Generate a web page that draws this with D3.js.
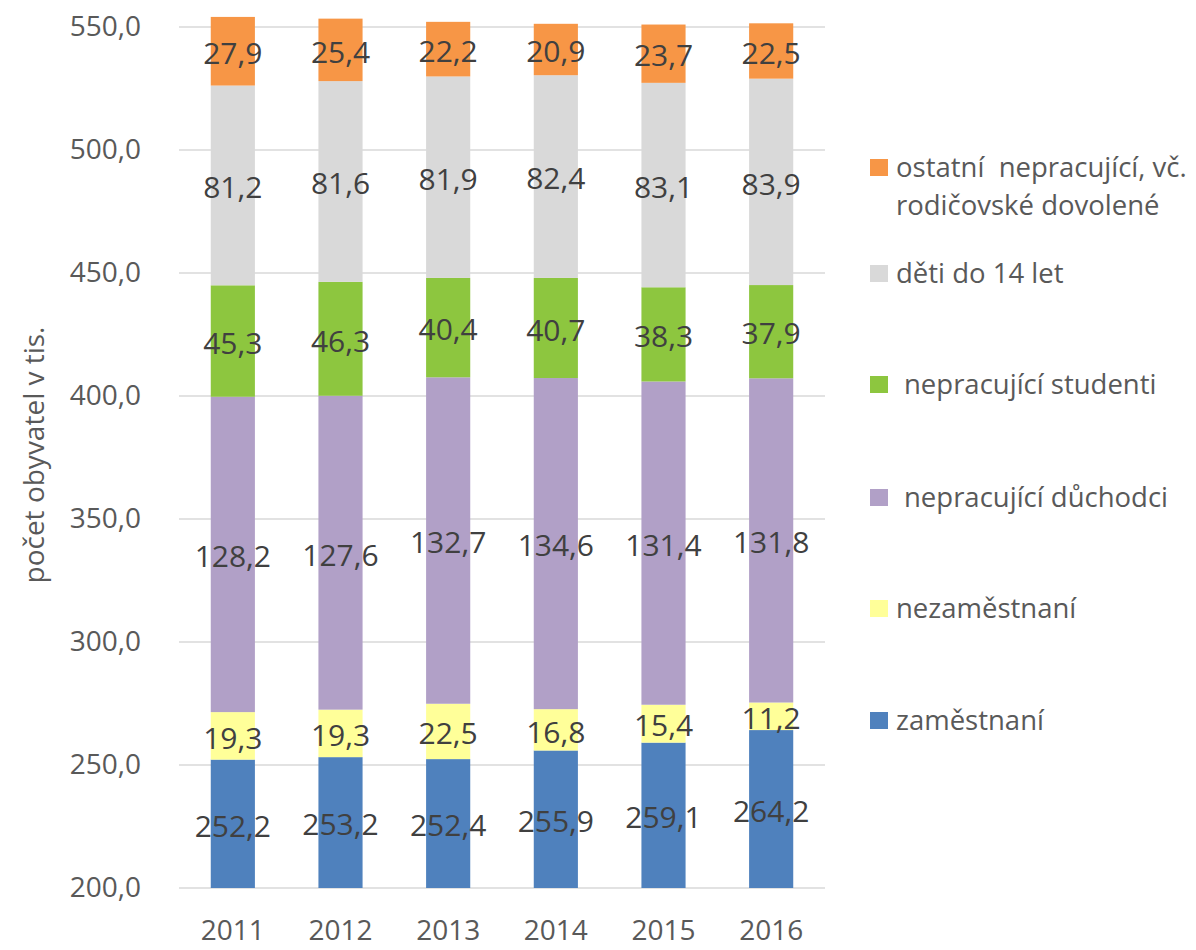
<!DOCTYPE html>
<html><head><meta charset="utf-8">
<script src="https://cdn.jsdelivr.net/npm/d3@7"></script>
<style>body{margin:0;background:#fff;} text{font-family:"Open Sans",sans-serif;}</style>
</head><body>
<svg id="c" width="1196" height="950"></svg>
<script>
const years = ["2011","2012","2013","2014","2015","2016"];
const zamestnani = [252.2,253.2,252.4,255.9,259.1,264.2];
const nezamestnani = [19.3,19.3,22.5,16.8,15.4,11.2];
const duchodci = [128.2,127.6,132.7,134.6,131.4,131.8];
const studenti = [45.3,46.3,40.4,40.7,38.3,37.9];
const deti = [81.2,81.6,81.9,82.4,83.1,83.9];
const ostatni = [27.9,25.4,22.2,20.9,23.7,22.5];
const yTicks = [200,250,300,350,400,450,500,550];
const seriesNames = ["zaměstnaní","nezaměstnaní","nepracující důchodci","nepracující studenti","děti do 14 let","ostatní  nepracující, vč. rodičovské dovolené"];
const seriesValues = [zamestnani,nezamestnani,duchodci,studenti,deti,ostatni];
const colors = ["#4F81BD","#FFFF99","#B1A0C7","#8DC63F","#D9D9D9","#F79646"];

const svg = d3.select("#c");
const x = d3.scaleBand().domain(years).range([179,825]).paddingInner(0.59).paddingOuter(0.295);
const y = d3.scaleLinear().domain([200,550]).range([888,27]);

// gridlines
svg.append("g").selectAll("line").data(yTicks).join("line")
  .attr("x1",179).attr("x2",825).attr("y1",d=>y(d)).attr("y2",d=>y(d))
  .attr("stroke","#D9D9D9").attr("stroke-width",1.5);

// y axis labels
const yAxis = d3.axisLeft(y).tickValues(yTicks).tickSize(0).tickPadding(0)
  .tickFormat(d=>d3.format(".1f")(d).replace(".",","));
const ya = svg.append("g").attr("transform","translate(141,0)").call(yAxis);
ya.select(".domain").remove();
ya.selectAll("text").attr("font-size",28).attr("fill","#595959").attr("font-family","Open Sans");

// x axis labels
const xAxis = d3.axisBottom(x).tickSize(0).tickPadding(0);
const xa = svg.append("g").attr("transform","translate(0,940)").call(xAxis);
xa.select(".domain").remove();
xa.selectAll("text").attr("dy",0).attr("y",0).attr("font-size",28).attr("fill","#595959").attr("font-family","Open Sans");

// stack
const rows = years.map((yr,i)=>{const o={year:yr}; seriesNames.forEach((n,k)=>o[n]=seriesValues[k][i]); return o;});
const stack = d3.stack().keys(seriesNames)(rows);
const fmt = v=>d3.format(".1f")(v).replace(".",",");
stack.forEach((s,k)=>{
  const g = svg.append("g");
  g.selectAll("rect").data(s).join("rect")
    .attr("x",d=>x(d.data.year)).attr("width",x.bandwidth())
    .attr("y",d=>y(d[1])).attr("height",d=>y(Math.max(200,d[0]))-y(d[1]))
    .attr("fill",colors[k]);
  g.selectAll("text").data(s).join("text")
    .attr("x",d=>x(d.data.year)+x.bandwidth()/2)
    .attr("y",d=>(y(Math.max(200,d[0]))+y(d[1]))/2+2)
    .attr("dy","0.36em").attr("text-anchor","middle")
    .attr("font-size",30).attr("fill","#404040")
    .text(d=>fmt(d[1]-d[0]));
});

// y title
svg.append("text").attr("transform","translate(44,455) rotate(-90)")
  .attr("text-anchor","middle").attr("font-size",28).attr("fill","#595959")
  .text("počet obyvatel v tis.");

// legend
const legendItems = [
  {k:5, lines:["ostatní  nepracující, vč.","rodičovské dovolené"], y:167, tx:896},
  {k:4, lines:["děti do 14 let"], y:273, tx:896},
  {k:3, lines:["nepracující studenti"], y:384, tx:904},
  {k:2, lines:["nepracující důchodci"], y:497, tx:904},
  {k:1, lines:["nezaměstnaní"], y:608, tx:896},
  {k:0, lines:["zaměstnaní"], y:720, tx:896}
];
const lg = svg.append("g");
legendItems.forEach(it=>{
  lg.append("rect").attr("x",870).attr("y",it.y-8).attr("width",18).attr("height",17).attr("fill",colors[it.k]);
  const t = lg.append("text").attr("x",it.tx).attr("y",it.y)
    .attr("font-size",27.5).attr("fill","#595959").style("white-space","pre");
  it.lines.forEach((ln,i)=>t.append("tspan").attr("x",it.tx).attr("dy",i===0?"0.36em":"1.38em").text(ln));
});
</script>
</body></html>
